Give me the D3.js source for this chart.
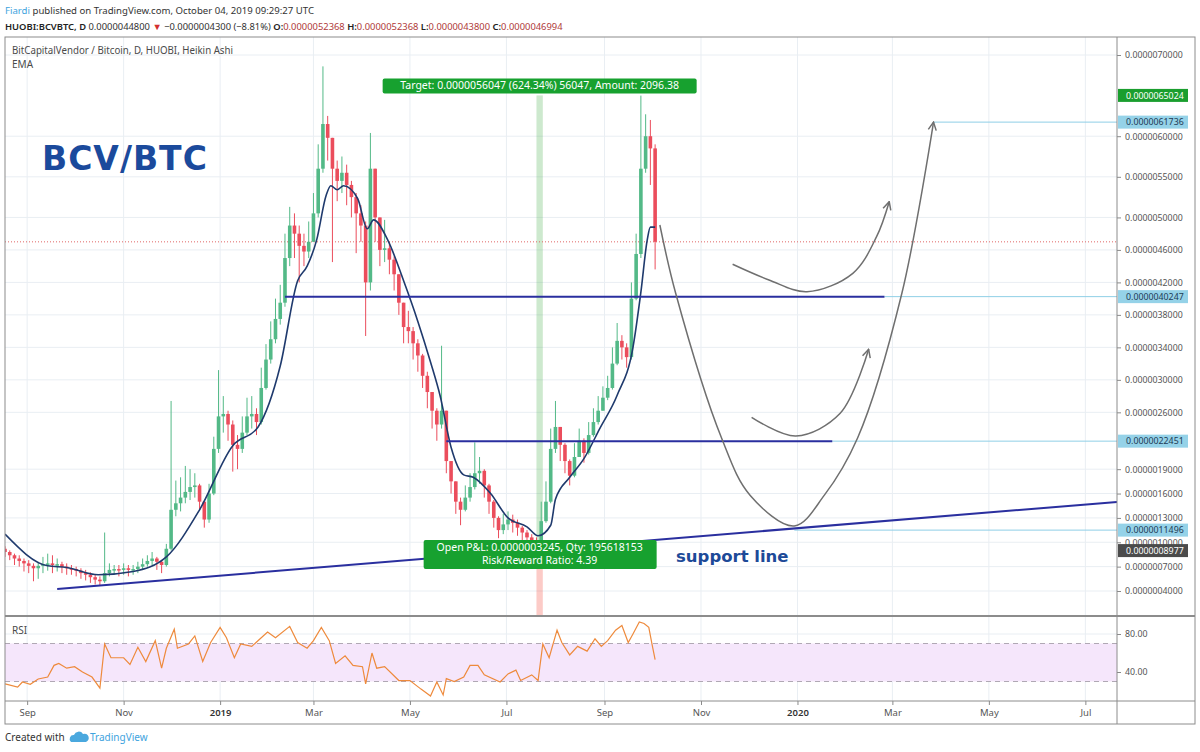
<!DOCTYPE html>
<html>
<head>
<meta charset="utf-8">
<script src="https://cdn.jsdelivr.net/npm/d3@7"></script>
<style>
  body { margin: 0; background: #fff; }
  svg text { font-family: "Noto Sans", sans-serif; }
</style>
</head>
<body>
<div id="chart"></div>
<script>
const startDate = '2018-08-18'
const stepDays = 3
const firstOpen = 92

const closes = [88,84,80,77,74,71,68,71,73,74,72,73,70,68,67,65,62,60,57,54,
  52,62,66,67,66,68,66,67,70,73,77,80,76,72,92,140,148,155,162,168,
  170,150,128,160,215,255,258,245,220,215,235,255,258,248,290,325,350,375,395,450,
  490,480,465,458,470,505,560,615,598,560,545,555,540,525,505,490,420,560,500,460,
  462,448,430,395,365,360,345,330,305,285,262,245,262,200,175,150,140,155,168,185,
  188,170,150,130,115,122,128,124,118,112,106,101,99,126,150,215,242,220,200,182,
  205,225,210,232,248,262,278,290,320,348,340,328,400,455,560,600,585,470]
const highs = [95,90,86,84,80,78,74,76,82,86,84,80,76,74,72,70,68,66,63,60,
  58,112,74,72,72,74,72,72,76,80,84,88,82,78,98,274,176,180,194,190,
  185,172,150,172,230,312,280,262,250,232,255,278,280,265,315,344,372,400,417,480,
  513,505,490,480,495,530,590,686,625,590,570,575,565,545,530,515,495,604,560,500,
  497,470,452,430,395,385,365,350,332,310,285,265,342,262,200,175,155,170,185,223,
  205,190,172,152,132,135,138,134,128,120,115,110,106,150,175,240,274,240,222,202,
  222,240,228,248,265,280,292,305,340,370,355,345,420,480,650,627,620,590]
const lows = [82,78,72,70,64,62,52,55,62,65,62,64,62,60,60,58,55,53,50,48,
  47,50,58,60,58,60,58,60,62,66,70,72,66,62,70,90,132,138,148,152,
  155,140,118,124,158,210,235,225,187,190,210,232,240,232,245,288,320,345,368,390,
  440,450,420,440,450,470,500,555,570,445,520,530,515,500,456,470,354,410,470,440,
  445,430,410,380,345,345,325,310,290,265,240,225,240,185,160,135,121,138,150,165,
  172,155,135,118,105,110,115,112,108,102,98,95,94,98,124,148,210,200,185,170,
  180,205,198,208,230,245,262,275,288,318,325,315,325,398,450,555,540,436]

// EMA line, days counted from startDate
const emaDays = [0,27,39,59,81,102,123,144,160,174,185,191,197,203,206,210,214,223,229,233,
  242,252,261,269,275,282,290,296,307,318,330,337,345,348,357,366,376,387,397,402,406,408,411]
const emaValues = [110,71,69,60,64,82,140,219,242,317,422,440,472,527,539,534,539,523,486,497,
  472,422,372,322,281,217,183,180,160,130,119,108,121,153,180,203,240,281,340,408,472,488,488]

// RSI pane
const rsiDays = [0,8,11,16,21,27,31,34,39,44,49,55,60,63,67,75,79,84,89,95,
  99,102,107,109,116,120,125,130,136,140,145,149,156,162,166,171,180,185,191,195,
  200,205,209,215,220,226,228,232,235,240,249,256,263,269,273,277,279,284,290,294,
  299,303,313,318,323,326,333,337,340,344,349,352,357,362,368,373,377,381,386,390,
  394,397,401,404,407,409,411]
const rsiValues = [27.5,24,29.5,27,32.6,34.7,47,49,44,45.6,40,34.7,23,69.5,55,55,48,66,51,73,
  44,65,85,65,69.5,78,51,71,87,76,55,69.5,67,76,82,76,88,71,65,73,
  87,73,49,57,47,45.6,27.5,60,44,45.6,31,31,22,14.7,29.5,15.8,33,30,34.7,47,
  47,37,29.5,38,42,31,37,31,69.5,55,84,71,58,67,62,75,67,73,84,89,
  71,80,92.6,91,87,69.5,53]

const priceTicks = [700,600,550,500,460,420,380,340,300,260,190,160,130,100,70,40]
const rsiTicks = [80, 40]
const rsiBand = [30, 70]
const lastPrice = 469.94

// coloured labels on the price scale
const markerPrices = [650.24, 617.36, 402.47, 224.51, 114.96, 89.77]
const markerKinds = ['target', 'level', 'level', 'level', 'level', 'entry']

// drawn horizontal levels and their light price rays
const levelPrices = [402.47, 224.51]
const levelFrom = ['2019-02-11', '2019-05-24']
const levelTo = ['2020-02-25', '2020-01-23']
const rayPrices = [617.36, 402.47, 224.51, 114.96]
const rayFrom = ['2020-03-27', '2020-02-25', '2020-01-23', '2019-12-30']

// support trend line
const supportDates = ['2018-09-20', '2020-07-21']
const supportPrices = [42.5, 149.6]

// hand drawn scenario arrows
const bigArrowDates = ['2019-10-06','2019-10-16','2019-11-14','2019-12-02','2019-12-30','2020-01-18','2020-02-08','2020-03-07','2020-03-27']
const bigArrowPrices = [490.7,406.6,228.4,158,120,158,228.4,406.6,617.4]
const midArrowDates = ['2019-11-21','2019-12-14','2020-01-07','2020-02-05','2020-02-20','2020-02-28']
const midArrowPrices = [442.3,423,408.5,431.2,476.3,519.4]
const smallArrowDates = ['2019-12-03','2019-12-31','2020-01-28','2020-02-15']
const smallArrowPrices = [253.9,230.9,258.8,337.6]

// long position tool
const positionDates = ['2019-07-20', '2019-07-24']
const positionEntry = 89.77
const positionTarget = 650.24

const W = 1200, H = 752
const L = 5, R = 1117, T = 37, mainB = 615, rsiT = 617, rsiB = 701, axB = 724, outerR = 1195

const parse = d3.utcParse('%Y-%m-%d')
const start = parse(startDate)
const fmtPrice = v => (v * 1e-8).toFixed(10)

const svg = d3.select('#chart').append('svg')
    .attr('width', W)
    .attr('height', H)

const x = d3.scaleUtc()
    .domain([start, parse('2020-07-21')])
    .range([L, R])
const y = d3.scaleLinear()
    .domain([40, 700])
    .range([591, 55])
const yr = d3.scaleLinear()
    .domain([40, 80])
    .range([672, 634])

const defs = svg.append('defs')
defs.append('clipPath').attr('id', 'clipMain')
    .append('rect').attr('x', L).attr('y', T).attr('width', R - L).attr('height', mainB - T)
defs.append('clipPath').attr('id', 'clipRsi')
    .append('rect').attr('x', L).attr('y', rsiT).attr('width', R - L).attr('height', rsiB - rsiT)
defs.append('marker')
    .attr('id', 'arrow')
    .attr('viewBox', '0 0 10 10')
    .attr('refX', 9).attr('refY', 5)
    .attr('markerWidth', 10).attr('markerHeight', 10)
    .attr('markerUnits', 'userSpaceOnUse')
    .attr('orient', 'auto')
  .append('path')
    .attr('d', 'M1,1 L9,5 L1,9')
    .attr('fill', 'none')
    .attr('stroke', '#6f6f6f')
    .attr('stroke-width', 1.5)

// grid
const months = x.ticks(d3.utcMonth.every(2))
svg.append('g').selectAll('line')
    .data(months)
    .join('line')
        .attr('x1', d => x(d)).attr('x2', d => x(d))
        .attr('y1', T).attr('y2', rsiB)
        .attr('stroke', '#e9eef3')
svg.append('g').selectAll('line')
    .data(priceTicks)
    .join('line')
        .attr('x1', L).attr('x2', R)
        .attr('y1', d => y(d)).attr('y2', d => y(d))
        .attr('stroke', '#e9eef3')
svg.append('g').selectAll('line')
    .data(rsiTicks)
    .join('line')
        .attr('x1', L).attr('x2', R)
        .attr('y1', d => yr(d)).attr('y2', d => yr(d))
        .attr('stroke', '#e9eef3')

const main = svg.append('g').attr('clip-path', 'url(#clipMain)')

// position tool bands
const px0 = x(parse(positionDates[0])), px1 = x(parse(positionDates[1]))
main.append('rect')
    .attr('x', px0).attr('width', px1 - px0)
    .attr('y', y(positionTarget)).attr('height', y(positionEntry) - y(positionTarget))
    .attr('fill', 'rgba(76,175,80,0.28)')
main.append('rect')
    .attr('x', px0).attr('width', px1 - px0)
    .attr('y', y(positionEntry)).attr('height', mainB - y(positionEntry))
    .attr('fill', 'rgba(244,67,54,0.28)')

// current price line
main.append('line')
    .attr('x1', L).attr('x2', R)
    .attr('y1', y(lastPrice)).attr('y2', y(lastPrice))
    .attr('stroke', '#e06666')
    .attr('stroke-dasharray', '1,2')

// light price rays
main.append('g').selectAll('line')
    .data(rayPrices)
    .join('line')
        .attr('x1', (d, i) => x(parse(rayFrom[i]))).attr('x2', R)
        .attr('y1', d => y(d)).attr('y2', d => y(d))
        .attr('stroke', '#8fcfe6')
        .attr('stroke-width', 1)

// candles
const candles = closes.map((c, i) => ({
    date: d3.utcDay.offset(start, i * stepDays),
    open: i ? closes[i - 1] : firstOpen,
    close: c,
    high: highs[i],
    low: lows[i]
}))
const up = '#53b987', down = '#eb4d5c'
const cg = main.append('g')
cg.selectAll('line')
    .data(candles)
    .join('line')
        .attr('x1', d => x(d.date)).attr('x2', d => x(d.date))
        .attr('y1', d => y(Math.max(d.high, d.open, d.close)))
        .attr('y2', d => y(Math.min(d.low, d.open, d.close)))
        .attr('stroke', d => d.close >= d.open ? up : down)
        .attr('stroke-width', 1)
cg.selectAll('rect')
    .data(candles)
    .join('rect')
        .attr('x', d => x(d.date) - 1.8)
        .attr('width', 3.6)
        .attr('y', d => y(Math.max(d.open, d.close)))
        .attr('height', d => Math.max(1.5, Math.abs(y(d.open) - y(d.close))))
        .attr('fill', d => d.close >= d.open ? up : down)

// EMA
main.append('path')
    .datum(emaDays.map((d, i) => [d3.utcDay.offset(start, d), emaValues[i]]))
    .attr('fill', 'none')
    .attr('stroke', '#1f3a6d')
    .attr('stroke-width', 1.6)
    .attr('d', d3.line().x(d => x(d[0])).y(d => y(d[1])).curve(d3.curveMonotoneX))

// support line and levels
main.append('line')
    .attr('x1', x(parse(supportDates[0]))).attr('x2', x(parse(supportDates[1])))
    .attr('y1', y(supportPrices[0])).attr('y2', y(supportPrices[1]))
    .attr('stroke', '#2a2f9f')
    .attr('stroke-width', 2)
main.append('g').selectAll('line')
    .data(levelPrices)
    .join('line')
        .attr('x1', (d, i) => x(parse(levelFrom[i]))).attr('x2', (d, i) => x(parse(levelTo[i])))
        .attr('y1', d => y(d)).attr('y2', d => y(d))
        .attr('stroke', '#2a2f9f')
        .attr('stroke-width', 2)

// scenario arrows
const arrowLine = d3.line().x(d => x(d[0])).y(d => y(d[1])).curve(d3.curveCatmullRom)
;[[bigArrowDates, bigArrowPrices], [midArrowDates, midArrowPrices], [smallArrowDates, smallArrowPrices]]
    .forEach(([dates, prices]) => {
        main.append('path')
            .datum(dates.map((d, i) => [parse(d), prices[i]]))
            .attr('fill', 'none')
            .attr('stroke', '#6f6f6f')
            .attr('stroke-width', 1.5)
            .attr('marker-end', 'url(#arrow)')
            .attr('d', arrowLine)
    })

// position tool labels
const pc = (px0 + px1) / 2
const tgt = svg.append('g')
tgt.append('rect')
    .attr('x', pc - 157).attr('y', y(positionTarget) - 17)
    .attr('width', 314).attr('height', 15).attr('rx', 2)
    .attr('fill', '#17a12f')
tgt.append('text')
    .attr('x', pc).attr('y', y(positionTarget) - 6)
    .attr('text-anchor', 'middle')
    .attr('fill', '#fff').attr('font-size', 10.5)
    .text('Target: 0.0000056047 (624.34%) 56047, Amount: 2096.38')
const pnl = svg.append('g')
pnl.append('rect')
    .attr('x', pc - 116).attr('y', y(positionEntry) - 10.5)
    .attr('width', 233).attr('height', 29).attr('rx', 2)
    .attr('fill', '#17a12f')
pnl.append('text')
    .attr('x', pc).attr('y', y(positionEntry) + 0.5)
    .attr('text-anchor', 'middle')
    .attr('fill', '#fff').attr('font-size', 10.5)
    .text('Open P&L: 0.0000003245, Qty: 195618153')
pnl.append('text')
    .attr('x', pc).attr('y', y(positionEntry) + 13)
    .attr('text-anchor', 'middle')
    .attr('fill', '#fff').attr('font-size', 10.5)
    .text('Risk/Reward Ratio: 4.39')

// text annotations
svg.append('text')
    .attr('x', 42).attr('y', 170)
    .attr('fill', '#1b4a9c')
    .attr('font-size', 33).attr('font-weight', 'bold')
    .attr('letter-spacing', 1)
    .style('font-family', '"DejaVu Sans", sans-serif')
    .text('BCV/BTC')
svg.append('text')
    .attr('x', 676).attr('y', 562)
    .attr('fill', '#1d4a98')
    .attr('font-size', 16.5).attr('font-weight', 'bold')
    .style('font-family', '"DejaVu Sans", sans-serif')
    .text('support line')

// RSI pane
const rsi = svg.append('g').attr('clip-path', 'url(#clipRsi)')
rsi.append('rect')
    .attr('x', L).attr('width', R - L)
    .attr('y', yr(rsiBand[1])).attr('height', yr(rsiBand[0]) - yr(rsiBand[1]))
    .attr('fill', '#f5e6fb')
rsi.selectAll('line.band')
    .data(rsiBand)
    .join('line')
        .attr('class', 'band')
        .attr('x1', L).attr('x2', R)
        .attr('y1', d => yr(d)).attr('y2', d => yr(d))
        .attr('stroke', '#b0a8b4')
        .attr('stroke-dasharray', '5,4')
rsi.append('path')
    .datum(rsiDays.map((d, i) => [d3.utcDay.offset(start, d), rsiValues[i]]))
    .attr('fill', 'none')
    .attr('stroke', '#ee8a3c')
    .attr('stroke-width', 1.2)
    .attr('d', d3.line().x(d => x(d[0])).y(d => yr(d[1])))

// axes
function styleAxis(g) {
    g.select('.domain').remove()
    g.selectAll('line').attr('stroke', '#8a8a8a')
    g.selectAll('text').attr('fill', '#555').style('font-family', '"Noto Sans", sans-serif')
}
svg.append('g')
    .attr('transform', `translate(${R},0)`)
    .call(d3.axisRight(y).tickValues(priceTicks).tickFormat(fmtPrice).tickSize(4).tickPadding(4))
    .attr('font-size', 8.8)
    .call(styleAxis)
svg.append('g')
    .attr('transform', `translate(${R},0)`)
    .call(d3.axisRight(yr).tickValues(rsiTicks).tickFormat(d3.format('.2f')).tickSize(4).tickPadding(4))
    .attr('font-size', 8.8)
    .call(styleAxis)
svg.append('g')
    .attr('transform', `translate(0,${rsiB})`)
    .call(d3.axisBottom(x).tickValues(months)
        .tickFormat(d => d.getUTCMonth() === 0 ? d.getUTCFullYear() : d3.utcFormat('%b')(d))
        .tickSize(4).tickPadding(4))
    .attr('font-size', 9.5)
    .call(styleAxis)
    .call(g => g.selectAll('text')
        .filter(d => d.getUTCMonth() === 0)
        .attr('fill', '#333').attr('font-weight', 600))

// coloured price scale labels
const mk = svg.append('g').selectAll('g')
    .data(markerPrices)
    .join('g')
        .attr('transform', d => `translate(${R + 1},${y(d)})`)
mk.append('rect')
    .attr('x', 0).attr('y', -6.5)
    .attr('width', 70).attr('height', 13)
    .attr('fill', (d, i) => markerKinds[i] === 'target' ? '#1a9e2e' : markerKinds[i] === 'entry' ? '#4b4b4b' : '#95d2e8')
mk.append('text')
    .attr('x', 8).attr('y', 3.2)
    .attr('font-size', 8.8)
    .attr('fill', (d, i) => markerKinds[i] === 'level' ? '#1d3b56' : '#fff')
    .text(fmtPrice)

// frame
const frame = svg.append('g').attr('stroke', '#8c8c8c').attr('fill', 'none')
frame.append('rect').attr('x', L).attr('y', T).attr('width', outerR - L).attr('height', axB - T)
frame.append('line').attr('x1', R).attr('x2', R).attr('y1', T).attr('y2', axB)
frame.append('line').attr('x1', L).attr('x2', outerR).attr('y1', mainB + 1).attr('y2', mainB + 1).attr('stroke-width', 2)
frame.append('line').attr('x1', L).attr('x2', outerR).attr('y1', rsiB).attr('y2', rsiB)

// pane titles
svg.append('text')
    .attr('x', 12).attr('y', 54)
    .attr('font-size', 10.5).attr('fill', '#4a4a4a')
    .attr('textLength', 221).attr('lengthAdjust', 'spacingAndGlyphs')
    .text('BitCapitalVendor / Bitcoin, D, HUOBI, Heikin Ashi')
svg.append('text')
    .attr('x', 12).attr('y', 68)
    .attr('font-size', 10).attr('fill', '#4a4a4a')
    .text('EMA')
svg.append('text')
    .attr('x', 12).attr('y', 634)
    .attr('font-size', 10).attr('fill', '#4a4a4a')
    .text('RSI')

// header
const h1 = svg.append('text')
    .attr('x', 5).attr('y', 14)
    .attr('font-size', 9.6)
h1.append('tspan').attr('fill', '#3ea3de').text('Fiardi')
h1.append('tspan').attr('fill', '#333').text(' published on TradingView.com, October 04, 2019 09:29:27 UTC')

const h2 = svg.append('text')
    .attr('x', 5).attr('y', 30)
    .attr('font-size', 9.4)
const hdr = [
    ['HUOBI:BCVBTC, D ', '#222', 600],
    ['0.0000044800 ', '#333', 400],
    ['\u25BC', '#d32f2f', 400],
    [' \u22120.0000004300 (\u22128.81%) ', '#333', 400],
    ['O:', '#222', 600], ['0.0000052368', '#b03a3a', 400],
    [' H:', '#222', 600], ['0.0000052368', '#b03a3a', 400],
    [' L:', '#222', 600], ['0.0000043800', '#b03a3a', 400],
    [' C:', '#222', 600], ['0.0000046994', '#b03a3a', 400]
]
hdr.forEach(([t, c, w]) => h2.append('tspan').attr('fill', c).attr('font-weight', w).text(t))

// footer
svg.append('text')
    .attr('x', 5).attr('y', 741)
    .attr('font-size', 10).attr('fill', '#333')
    .text('Created with')
svg.append('path')
    .attr('d', 'M71,742 a4,4 0 0 1 3,-7 a5,5 0 0 1 9,-1 a4,4 0 0 1 3,8 z')
    .attr('fill', '#4aa8de')
svg.append('text')
    .attr('x', 90).attr('y', 741)
    .attr('font-size', 10).attr('fill', '#3ea3de')
    .text('TradingView')
</script>
</body>
</html>
